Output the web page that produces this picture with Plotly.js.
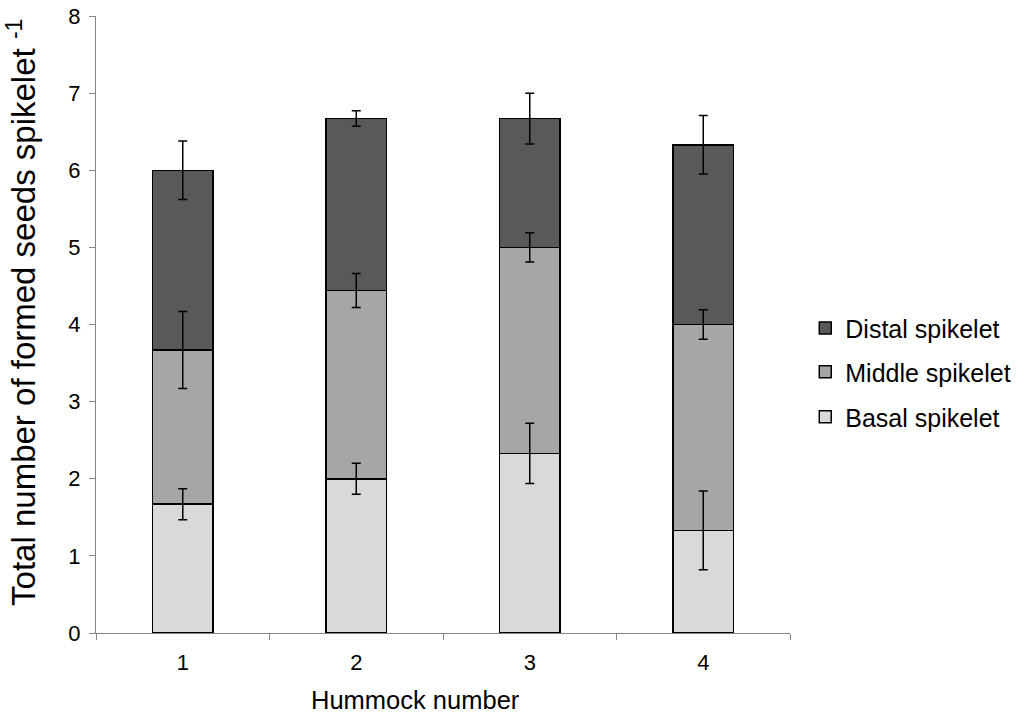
<!DOCTYPE html>
<html>
<head>
<meta charset="utf-8">
<script src="https://cdn.plot.ly/plotly-3.0.1.min.js"></script>
<style>html,body{margin:0;padding:0;background:#fff;}#chart{width:1017px;height:726px;}</style>
</head>
<body>
<div id="chart"></div>
<script>
const categories = ['1', '2', '3', '4'];
const basal = [1.67, 2.0, 2.33, 1.33];
const basalErr = [0.2, 0.2, 0.39, 0.51];
const middle = [2.0, 2.44, 2.67, 2.67];
const middleErr = [0.5, 0.22, 0.19, 0.19];
const distal = [2.33, 2.23, 1.67, 2.33];
const distalErr = [0.38, 0.1, 0.33, 0.38];
const xTitle = 'Hummock number';
const yTitle = 'Total number of formed seeds spikelet <sup>-1</sup>';

const series = [
  {name: 'Basal spikelet', y: basal, err: basalErr, color: '#d9d9d9', legend: 'legend3'},
  {name: 'Middle spikelet', y: middle, err: middleErr, color: '#a6a6a6', legend: 'legend2'},
  {name: 'Distal spikelet', y: distal, err: distalErr, color: '#595959', legend: 'legend'}
];

const data = [];
series.forEach(s => {
  data.push({
    type: 'bar', name: s.name, x: categories, y: s.y, legend: s.legend,
    marker: {color: s.color, line: {color: '#000', width: 1.5}},
    hoverinfo: 'skip'
  });
});
// error bars drawn on top, at the cumulative top of each stacked segment
const cum = categories.map(() => 0);
series.forEach(s => {
  const tops = s.y.map((v, i) => (cum[i] += v));
  data.push({
    type: 'scatter', mode: 'markers', x: categories, y: tops.slice(),
    marker: {size: 1, opacity: 0}, showlegend: false, hoverinfo: 'skip',
    error_y: {type: 'data', array: s.err, visible: true, color: '#000', thickness: 1.5, width: 4.5}
  });
});

const legendBase = {
  x: 1.022, xanchor: 'left', yanchor: 'middle',
  font: {size: 25}, itemwidth: 30, bgcolor: 'rgba(0,0,0,0)'
};
const layout = {
  width: 1017, height: 726,
  margin: {l: 96, r: 227, t: 16, b: 93, autoexpand: false},
  paper_bgcolor: '#fff', plot_bgcolor: '#fff',
  barmode: 'stack', bargap: 0.654,
  font: {family: 'Liberation Sans, Arial, sans-serif', color: '#000', size: 22},
  xaxis: {
    type: 'category', showline: true, linecolor: '#868686', linewidth: 1,
    ticks: 'outside', tickson: 'boundaries', ticklen: 6, tickcolor: '#868686',
    tickfont: {size: 22}, showgrid: false, ticklabelstandoff: 10
  },
  yaxis: {
    range: [0, 8], dtick: 1, showline: true, linecolor: '#868686', linewidth: 1,
    ticks: 'outside', ticklen: 6, tickcolor: '#868686', showgrid: false, zeroline: false,
    tickfont: {size: 22}, ticklabelstandoff: 4
  },
  annotations: [
    {text: xTitle, xref: 'paper', yref: 'paper', x: 0.46, y: -0.108, xanchor: 'center', yanchor: 'middle',
     showarrow: false, font: {size: 25.5}},
    {text: yTitle, xref: 'paper', yref: 'paper', x: -0.107, y: 0.52, xanchor: 'center', yanchor: 'middle',
     showarrow: false, textangle: -90, font: {size: 33}}
  ],
  legend: Object.assign({}, legendBase, {y: 0.494}),
  legend2: Object.assign({}, legendBase, {y: 0.423}),
  legend3: Object.assign({}, legendBase, {y: 0.350}),
  showlegend: true
};
Plotly.newPlot('chart', data, layout, {displayModeBar: false});
</script>
</body>
</html>
